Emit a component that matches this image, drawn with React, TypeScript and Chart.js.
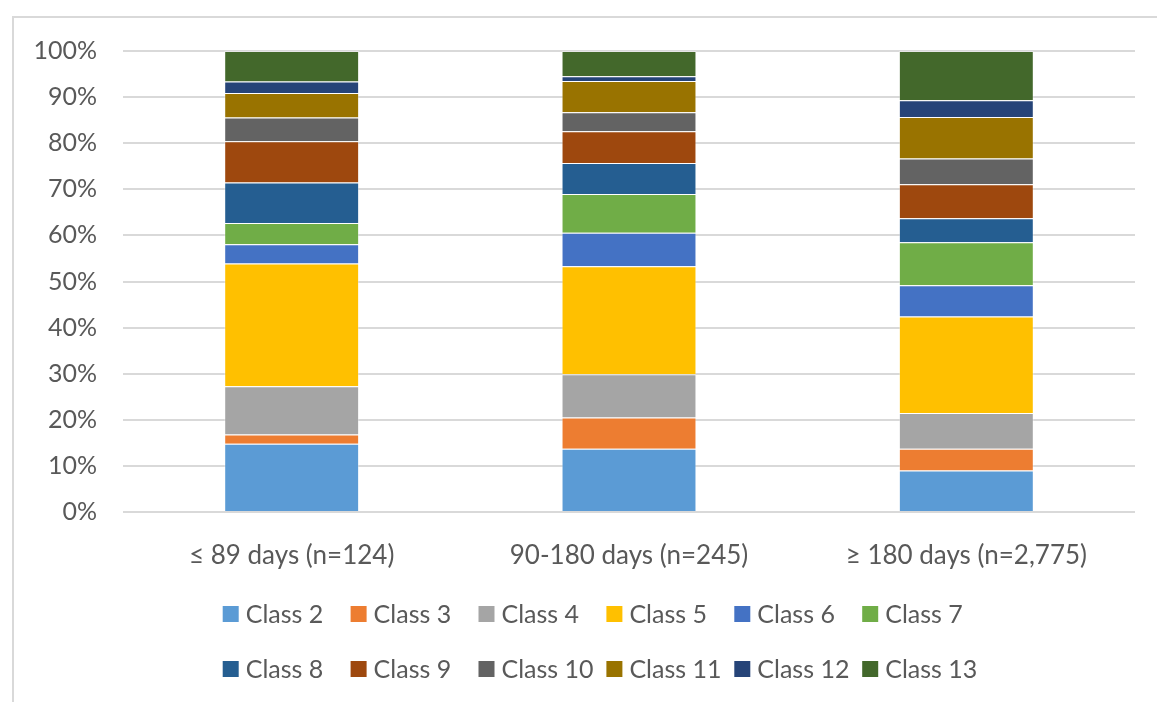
import React, { useEffect, useRef } from "react";
import { Chart, registerables } from "chart.js";

Chart.register(...registerables);

const categories = ["≤ 89 days (n=124)", "90-180 days (n=245)", "≥ 180 days (n=2,775)"];
const seriesNames = [
  "Class 2", "Class 3", "Class 4", "Class 5", "Class 6", "Class 7",
  "Class 8", "Class 9", "Class 10", "Class 11", "Class 12", "Class 13",
];
const class2 = [14.8, 13.7, 9.0];
const class3 = [2.0, 6.8, 4.7];
const class4 = [10.5, 9.4, 7.8];
const class5 = [26.6, 23.4, 20.9];
const class6 = [4.2, 7.3, 6.8];
const class7 = [4.6, 8.4, 9.3];
const class8 = [8.8, 6.7, 5.2];
const class9 = [8.9, 6.9, 7.4];
const class10 = [5.2, 4.1, 5.6];
const class11 = [5.3, 6.8, 9.0];
const class12 = [2.5, 1.0, 3.6];
const class13 = [6.6, 5.5, 10.7];
const seriesValues = [class2, class3, class4, class5, class6, class7, class8, class9, class10, class11, class12, class13];
const seriesColors = [
  "#5B9BD5", "#ED7D31", "#A5A5A5", "#FFC000", "#4472C4", "#70AD47",
  "#255E91", "#9E480E", "#636363", "#997300", "#264478", "#43682B",
];
const yMin = 0;
const yMax = 100;
const yStep = 10;

const FONT = "Lato, 'Noto Sans', sans-serif";
const TEXT = "#595959";
const GRID = "#d9d9d9";

const LEGEND_LEFT = 222.7;
const LEGEND_TOP = 614;
const LEGEND_COL = 127.9;
const LEGEND_ROW = 55;
const LEGEND_PER_ROW = 6;

const gridLegend = {
  id: "gridLegend",
  afterDraw(chart: any) {
    const ctx = chart.ctx;
    ctx.save();
    ctx.font = `25px ${FONT}`;
    ctx.textBaseline = "middle";
    ctx.textAlign = "left";
    chart.data.datasets.forEach((ds: any, i: number) => {
      const col = i % LEGEND_PER_ROW;
      const row = Math.floor(i / LEGEND_PER_ROW);
      const x = LEGEND_LEFT + col * LEGEND_COL;
      const y = LEGEND_TOP + row * LEGEND_ROW;
      ctx.fillStyle = ds.backgroundColor;
      ctx.fillRect(x, y - 8, 16, 16);
      ctx.fillStyle = TEXT;
      ctx.fillText(ds.label, x + 23, y + 1);
    });
    ctx.restore();
  },
};

export default function App() {
  const canvasRef = useRef<HTMLCanvasElement | null>(null);

  useEffect(() => {
    if (!canvasRef.current) return;
    const chart = new Chart(canvasRef.current, {
      type: "bar",
      data: {
        labels: categories,
        datasets: seriesNames.map((name, i) => ({
          label: name,
          data: seriesValues[i],
          backgroundColor: seriesColors[i],
          borderColor: "rgba(255,255,255,0.35)",
          borderWidth: 1,
          categoryPercentage: 1,
          barPercentage: 0.4,
        })),
      },
      options: {
        animation: false,
        responsive: true,
        maintainAspectRatio: false,
        layout: { padding: { left: 20, right: 22, top: 51, bottom: 0 } },
        plugins: {
          legend: { display: false },
          tooltip: { enabled: false },
          title: { display: false },
        },
        scales: {
          x: {
            stacked: true,
            grid: { display: false },
            border: { display: false },
            ticks: {
              color: TEXT,
              font: { family: FONT, size: 26 },
              padding: 20,
              maxRotation: 0,
              autoSkip: false,
            },
            afterFit: (scale: any) => {
              scale.height = 190;
            },
          },
          y: {
            stacked: true,
            min: yMin,
            max: yMax,
            grid: { color: GRID, lineWidth: 2, drawTicks: false },
            border: { display: false },
            ticks: {
              stepSize: yStep,
              color: TEXT,
              font: { family: FONT, size: 25 },
              padding: 26,
              callback: (v: any) => `${v}%`,
            },
            afterFit: (scale: any) => {
              scale.width = 103;
            },
          },
        },
      },
      plugins: [gridLegend],
    });
    return () => chart.destroy();
  }, []);

  return (
    <div style={{ position: "absolute", left: 0, top: 0, width: 1157, height: 702, overflow: "hidden", background: "#fff" }}>
      <div
        style={{
          position: "absolute",
          left: 12,
          top: 16,
          width: 1157 - 14,
          height: 702 - 18,
          borderLeft: `2px solid ${GRID}`,
          borderTop: `2px solid ${GRID}`,
        }}
      />
      <div style={{ position: "absolute", left: 0, top: 0, width: 1157, height: 702 }}>
        <canvas ref={canvasRef} />
      </div>
    </div>
  );
}
